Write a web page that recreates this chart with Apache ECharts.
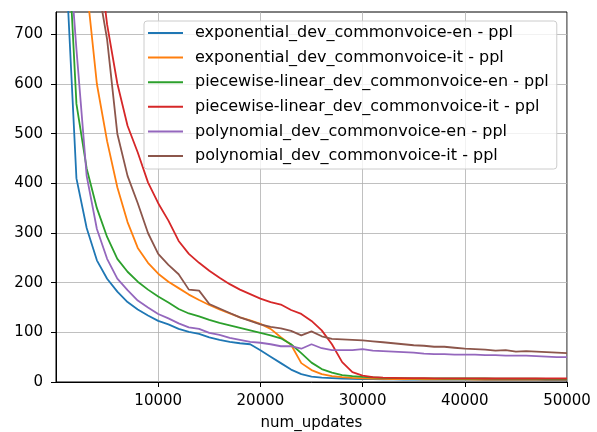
<!DOCTYPE html>
<html>
<head>
<meta charset="utf-8">
<script src="https://cdn.jsdelivr.net/npm/echarts@6/dist/echarts.min.js"></script>
<style>
  html, body { margin: 0; padding: 0; background: #fff; }
  #main { width: 597px; height: 432px; }
</style>
</head>
<body>
<div id="main"></div>
<script>
// eval steps
const updates = [1000, 2000, 3000, 4000, 5000, 6000, 7000, 8000, 9000, 10000,
  11000, 12000, 13000, 14000, 15000, 16000, 17000, 18000, 19000, 20000,
  21000, 22000, 23000, 24000, 25000, 26000, 27000, 28000, 29000, 30000,
  31000, 32000, 33000, 34000, 35000, 36000, 37000, 38000, 39000, 40000,
  41000, 42000, 43000, 44000, 45000, 46000, 47000, 48000, 49000, 50000];

const expEn = [830, 410, 310, 245, 208, 182, 161, 146, 134, 123,
  116, 107, 101, 97, 90, 85, 81, 78, 76, 64,
  51, 38, 25, 16, 11, 9, 8, 7, 6.5, 6,
  6, 5.5, 5.5, 5, 5, 5, 5, 5, 5, 5,
  5, 4.5, 4.5, 4.5, 4.5, 4.5, 4.5, 4, 4, 4];
const expIt = [1400, 1000, 796, 600, 485, 392, 322, 270, 240, 218,
  202, 189, 176, 165, 155, 146, 138, 130, 124, 117,
  107, 90, 75, 38, 24, 16, 12, 10, 8.5, 7.5,
  7, 6.5, 6, 6, 6, 5.5, 5.5, 5.5, 5.5, 5.5,
  5, 5, 5, 5, 5, 5, 5, 5, 5, 5];
const pwlEn = [962, 560, 430, 350, 292, 248, 222, 202, 186, 172,
  160, 147, 138, 132, 125, 119, 114, 109, 104, 99,
  94, 88, 76, 58, 39, 26, 19, 14, 12, 10.5,
  9.5, 8.5, 8, 8, 7.5, 7.5, 7.5, 7, 7, 7,
  7, 7, 6.5, 6.5, 6.5, 6.5, 6.5, 6, 6, 6];
const pwlIt = [1500, 1250, 1050, 890, 720, 601, 516, 462, 402, 360,
  325, 284, 258, 240, 224, 210, 197, 186, 177, 168,
  161, 156, 145, 137, 123, 104, 76, 40, 20, 13,
  10, 9, 8.5, 8, 8, 8, 7.5, 7.5, 7.5, 7.5,
  7.5, 7, 7, 7, 7, 7, 7, 7, 7, 7];
const polyEn = [948, 670, 415, 308, 248, 208, 185, 164, 150, 137,
  128, 118, 110, 107, 99, 95, 89, 85, 81, 79,
  76, 72, 72, 67, 76, 68, 64, 64, 64, 66,
  63, 62, 61, 60, 59, 57, 56, 56, 55, 55,
  55, 54, 54, 53, 53, 53, 52, 51, 50, 50];
const polyIt = [1400, 1150, 950, 810, 690, 500, 415, 360, 300, 258,
  236, 217, 186, 184, 157, 148, 139, 130, 123, 116,
  111, 108, 103, 94, 102, 92, 87, 86, 85, 84,
  82, 80, 78, 76, 74, 73, 71, 71, 69, 67,
  66, 65, 63, 64, 61, 62, 61, 60, 59, 58];

const names = [
  'exponential_dev_commonvoice-en - ppl',
  'exponential_dev_commonvoice-it - ppl',
  'piecewise-linear_dev_commonvoice-en - ppl',
  'piecewise-linear_dev_commonvoice-it - ppl',
  'polynomial_dev_commonvoice-en - ppl',
  'polynomial_dev_commonvoice-it - ppl'
];
const colors = ['#1f77b4', '#ff7f0e', '#2ca02c', '#d62728', '#9467bd', '#8c564b'];
const values = [expEn, expIt, pwlEn, pwlIt, polyEn, polyIt];

const yTicks = [0, 100, 200, 300, 400, 500, 600, 700];
const xTicks = [10000, 20000, 30000, 40000, 50000];

let myChart = echarts.init(document.getElementById('main'));

const font = 'DejaVu Sans';

let option = {
  animation: false,
  color: colors,
  grid: {
    left: 56, right: 30, top: 12, bottom: 50,
    outerBoundsMode: 'none',
    show: true, borderColor: '#000', borderWidth: 1, backgroundColor: 'transparent'
  },
  legend: {
    orient: 'vertical',
    left: 144, top: 21,
    padding: [3, 8, 4, 4],
    itemGap: 6.6,
    itemWidth: 35, itemHeight: 2,
    icon: 'path://M0 0H35V2H0Z',
    backgroundColor: 'rgba(255,255,255,0.8)',
    borderColor: '#cccccc', borderWidth: 1, borderRadius: 3,
    textStyle: { fontFamily: font, fontSize: 16, color: '#000', lineHeight: 18, padding: [0, 0, 0, 7] },
    data: names
  },
  xAxis: {
    type: 'value',
    min: 0, max: 50000, interval: 10000,
    name: 'num_updates', nameLocation: 'middle', nameGap: 34,
    nameTextStyle: { fontFamily: font, fontSize: 15, color: '#000' },
    axisLine: { onZero: false, lineStyle: { color: '#000', width: 1 } },
    axisTick: { length: 5, lineStyle: { color: '#000' }, customValues: xTicks },
    axisLabel: {
      fontFamily: font, fontSize: 15, color: '#000', margin: 12, customValues: xTicks,
      formatter: v => String(v)
    },
    splitLine: { show: true, lineStyle: { color: '#b0b0b0', width: 0.8 } }
  },
  yAxis: {
    type: 'value',
    min: 0, max: 745, interval: 100,
    axisLine: { show: true, lineStyle: { color: '#000', width: 1 } },
    axisTick: { show: true, length: 5, lineStyle: { color: '#000' }, customValues: yTicks },
    axisLabel: { fontFamily: font, fontSize: 15, color: '#000', margin: 13, customValues: yTicks },
    splitLine: { show: true, lineStyle: { color: '#b0b0b0', width: 0.8 } }
  },
  series: values.map((vals, i) => ({
    name: names[i],
    type: 'line',
    showSymbol: false,
    symbol: 'none',
    clip: true,
    lineStyle: { width: 1.8, color: colors[i] },
    data: updates.map((u, j) => [u, vals[j]])
  }))
};

option && myChart.setOption(option);
</script>
</body>
</html>
